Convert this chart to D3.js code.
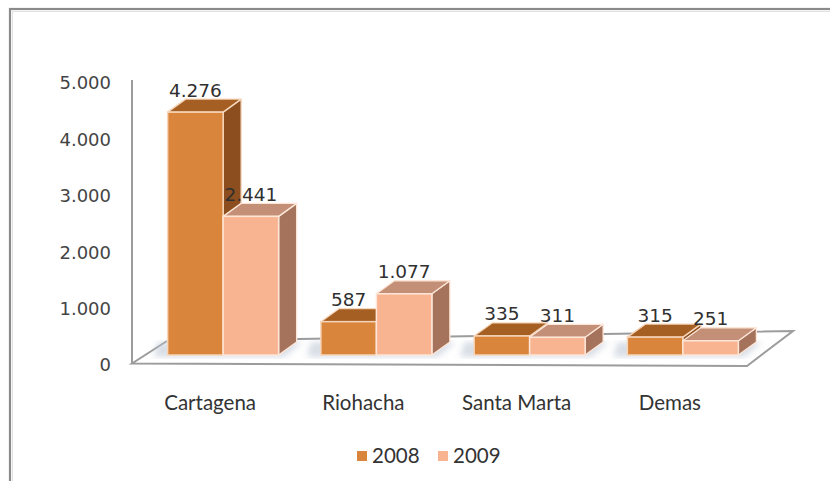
<!DOCTYPE html>
<html><head><meta charset="utf-8">
<script src="https://cdn.jsdelivr.net/npm/d3@7"></script>
<style>
html,body{margin:0;padding:0;background:#fff;}
svg{display:block;}
</style></head>
<body>
<svg id="chart" width="830" height="481"></svg>
<script>
const categories = ["Cartagena", "Riohacha", "Santa Marta", "Demas"];
const seriesNames = ["2008", "2009"];
const values2008 = [4276, 587, 335, 315];
const values2009 = [2441, 1077, 311, 251];
const tickValues = [0, 1000, 2000, 3000, 4000, 5000];
const tickLabels = ["0", "1.000", "2.000", "3.000", "4.000", "5.000"];
const dataLabels2008 = ["4.276", "587", "335", "315"];
const dataLabels2009 = ["2.441", "1.077", "311", "251"];

const colors = {
  "2008": {front: "#D9853B", top: "#A65F22", side: "#8C4E1E"},
  "2009": {front: "#F8B491", top: "#C48F77", side: "#A5735C"}
};

const svg = d3.select("#chart");
const W = 830, H = 481;

// frame
svg.append("rect").attr("x", 10).attr("y", 9).attr("width", W + 10).attr("height", H + 10)
  .attr("fill", "#fff").attr("stroke", "#8a8a8a").attr("stroke-width", 2.2);
svg.append("rect").attr("x", 12.5).attr("y", 11.5).attr("width", W).attr("height", H)
  .attr("fill", "none").attr("stroke", "#e2e2e2").attr("stroke-width", 1);

// scales
const x = d3.scaleBand().domain(categories).range([146.5, 759.5]).paddingInner(0).paddingOuter(0);
const xs = d3.scaleBand().domain(seriesNames).range([-55.5, 55.5]);
const yBar = d3.scaleLinear().domain([0, 5000]).range([355, 71]);
const yAxis = d3.scaleLinear().domain([0, 5000]).range([365, 83]);
const depth = {dx: 18, dy: -13};

// floor
const fl = {x0: 132, x1: 747, yF0: 363.5, yF1: 366, bx0: 167, bx1: 793, yB0: 341, yB1: 331};
const defs = svg.append("defs");
defs.append("filter").attr("id", "blur").append("feGaussianBlur").attr("stdDeviation", 3);

svg.append("path")
  .attr("d", `M${fl.x0},${fl.yF0}L${fl.x1},${fl.yF1}L${fl.bx1},${fl.yB1}L${fl.bx0 - 20},${fl.yB0 + 1}Z`)
  .attr("fill", "#fff").attr("stroke", "none");
svg.append("path")
  .attr("d", `M${fl.bx0 + 40},${fl.yB0 - 0.6}L${fl.bx1},${fl.yB1}L${fl.x1},${fl.yF1}L${fl.x0},${fl.yF0}L${fl.bx0},${fl.yB0}`)
  .attr("fill", "none").attr("stroke", "#9c9c9c").attr("stroke-width", 2);

// y axis line
svg.append("line").attr("x1", 132).attr("x2", 132).attr("y1", yAxis(5000) - 3).attr("y2", yAxis(0) - 1.5)
  .attr("stroke", "#9c9c9c").attr("stroke-width", 2);

// shadows
const shadowG = svg.append("g").attr("filter", "url(#blur)").attr("opacity", 0.55);
categories.forEach((c, i) => {
  const cx = x(c) + x.bandwidth() / 2;
  const l = cx + xs.range()[0], r = cx + xs.range()[1];
  shadowG.append("path")
    .attr("d", `M${l - 14},${yBar(0) + 2}L${r + 6},${yBar(0) + 2}L${r + 6 + depth.dx},${yBar(0) + depth.dy}L${l - 10},${yBar(0) + depth.dy}Z`)
    .attr("fill", "#b9c3d2");
});

// bars
const rows = [];
categories.forEach((c, i) => {
  rows.push({cat: c, s: "2008", v: values2008[i], label: dataLabels2008[i]});
  rows.push({cat: c, s: "2009", v: values2009[i], label: dataLabels2009[i]});
});

const barG = svg.append("g");
rows.forEach(d => {
  const cx = x(d.cat) + x.bandwidth() / 2;
  const x0 = cx + xs(d.s), x1 = x0 + xs.bandwidth();
  const yt = yBar(d.v), yb = yBar(0);
  const c = colors[d.s];
  const g = barG.append("g");
  const edge = d.s === "2008" ? "#f6d6bb" : "#fde6d8";
  g.append("path")
    .attr("d", `M${x1},${yb}L${x1 + depth.dx},${yb + depth.dy}L${x1 + depth.dx},${yt + depth.dy}L${x1},${yt}Z`)
    .attr("fill", c.side).attr("stroke", edge).attr("stroke-width", 1.3).attr("stroke-linejoin", "round");
  g.append("path")
    .attr("d", `M${x0},${yt}L${x0 + depth.dx},${yt + depth.dy}L${x1 + depth.dx},${yt + depth.dy}L${x1},${yt}Z`)
    .attr("fill", c.top).attr("stroke", edge).attr("stroke-width", 1.3).attr("stroke-linejoin", "round");
  g.append("rect").attr("x", x0).attr("y", yt).attr("width", x1 - x0).attr("height", yb - yt)
    .attr("fill", c.front).attr("stroke", edge).attr("stroke-width", 1.5);
});

// data labels
const lblG = svg.append("g");
rows.forEach(d => {
  const cx = x(d.cat) + x.bandwidth() / 2;
  const xc = cx + xs(d.s) + xs.bandwidth() / 2;
  lblG.append("text")
    .attr("x", xc).attr("y", yBar(d.v) + depth.dy - 2.5)
    .attr("text-anchor", "middle")
    .attr("font-family", "DejaVu Sans, sans-serif").attr("font-size", 18.5)
    .attr("fill", "#303030")
    .text(d.label);
});

// y tick labels
const tg = svg.append("g");
tickValues.forEach((t, i) => {
  tg.append("text").attr("x", 111).attr("y", yAxis(t)).attr("dy", "0.36em")
    .attr("text-anchor", "end")
    .attr("font-family", "DejaVu Sans, sans-serif").attr("font-size", 18)
    .attr("fill", "#444").text(tickLabels[i]);
});

// category labels
categories.forEach(c => {
  svg.append("text").attr("x", x(c) + x.bandwidth() / 2 - 13).attr("y", 410)
    .attr("text-anchor", "middle")
    .attr("font-family", "Lato, sans-serif").attr("font-size", 20.5)
    .attr("fill", "#333").text(c);
});

// legend
const legend = svg.append("g");
const legX = [357, 438];
seriesNames.forEach((s, i) => {
  legend.append("rect").attr("x", legX[i]).attr("y", 451).attr("width", 10).attr("height", 10)
    .attr("fill", colors[s].front);
  legend.append("text").attr("x", legX[i] + 15).attr("y", 463)
    .attr("font-family", "Lato, sans-serif").attr("font-size", 20.5)
    .attr("fill", "#333").text(s);
});
</script>
</body></html>
